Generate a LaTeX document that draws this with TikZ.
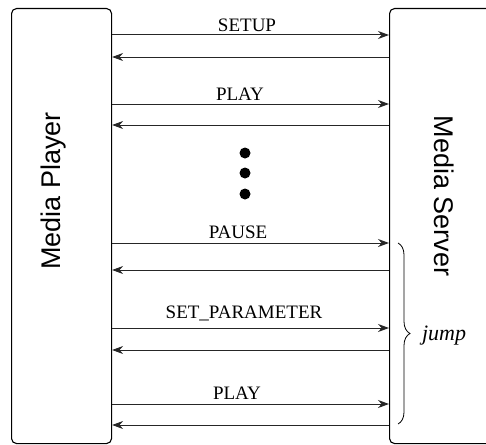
\documentclass[tikz,border=0pt]{standalone}
\usepackage{fontspec}
\setmainfont{Liberation Serif}
\newfontfamily\boxfont{Liberation Sans}
\usetikzlibrary{arrows.meta,decorations.pathreplacing}
\begin{document}
\begin{tikzpicture}[x=1pt,y=-1pt,
  endbox/.style={draw=black,line width=1.1pt,rounded corners=5pt,inner sep=0pt,anchor=north west},
  msg/.style={draw=black!85,line width=1pt,-{Stealth[length=11pt,width=8pt]}},
  msglabel/.style={anchor=base,inner sep=0pt,font=\fontsize{19}{22}\selectfont},
  boxlabel/.style={inner sep=0pt,font=\boxfont\fontsize{27}{30}\selectfont},
  dotnode/.style={circle,fill=black,minimum size=11pt,inner sep=0pt}]
\useasboundingbox (0,0) rectangle (486,444);
\clip (0,0) rectangle (486,444);
% end points
\node[endbox,minimum width=100pt,minimum height=435pt] (player) at (11,8) {};
\node[endbox,minimum width=140pt,minimum height=435pt] (server) at (389,8) {};
\node[boxlabel,rotate=90] (playerlabel) at (54,191) {Media Player};
\node[boxlabel,rotate=-90] (serverlabel) at (444,196) {Media Server};
% rows
\coordinate (r1) at (0,35);  \coordinate (q1) at (0,57);
\coordinate (r2) at (0,104); \coordinate (q2) at (0,125);
\coordinate (r3) at (0,243); \coordinate (q3) at (0,270);
\coordinate (r4) at (0,328); \coordinate (q4) at (0,350);
\coordinate (r5) at (0,404); \coordinate (q5) at (0,425);
\foreach \r/\q in {r1/q1,r2/q2,r3/q3,r4/q4,r5/q5}{
  \draw[msg] (player.east |- \r) -- (server.west |- \r);
  \draw[msg] (server.west |- \q) -- (player.east |- \q);
}
% labels
\node[msglabel] (l1) at (247,31) {SETUP};
\node[msglabel] (l2) at (240,100) {PLAY};
\node[msglabel] (l3) at (238,238) {PAUSE};
\node[msglabel] (l4) at (244,318) {SET\_PARAMETER};
\node[msglabel] (l5) at (237,399) {PLAY};
% dots
\node[dotnode] (d1) at (245,153) {};
\node[dotnode] (d2) at (245,173) {};
\node[dotnode] (d3) at (245,194) {};
% brace
\coordinate (b1) at (398,243);
\coordinate (b2) at (398,424);
\draw[line width=0.8pt,decorate,decoration={brace,amplitude=12pt}] (b1) -- (b2);
\node[inner sep=0pt,font=\itshape\fontsize{22}{26}\selectfont] (jump) at (444,336) {jump};
\end{tikzpicture}
\end{document}
